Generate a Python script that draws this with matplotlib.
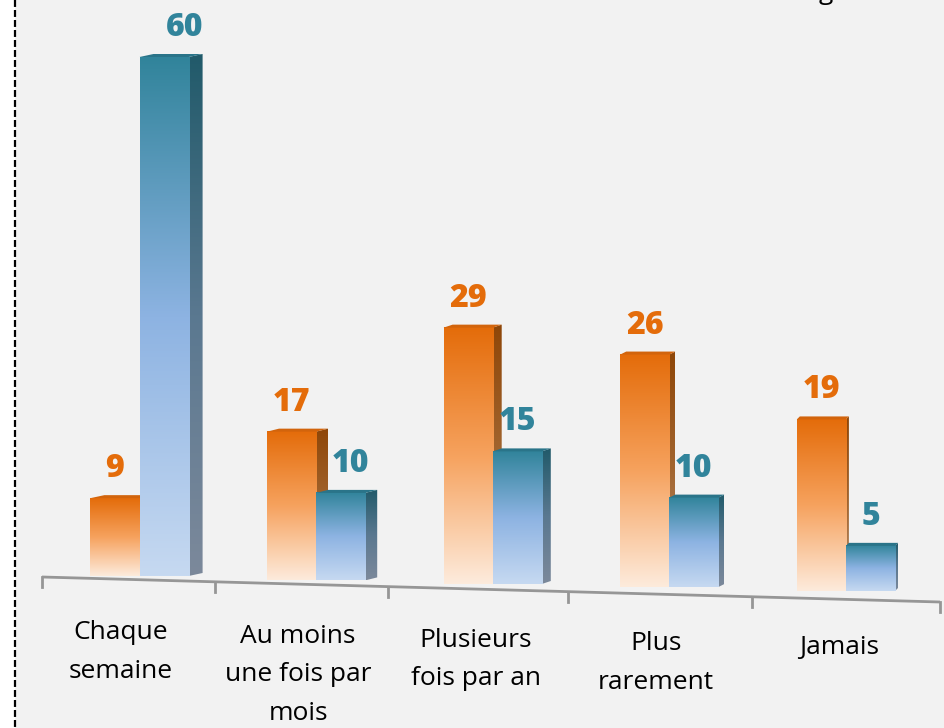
import numpy as np
import matplotlib
matplotlib.use('Agg')
import matplotlib.pyplot as plt
from matplotlib.colors import LinearSegmentedColormap
from matplotlib.patches import Polygon, Rectangle

plt.rcParams['font.family'] = ['Open Sans', 'DejaVu Sans']
plt.rcParams['lines.scale_dashes'] = False

# ---------------- data ----------------
categories = ["Chaque\nsemaine", "Au moins\nune fois par\nmois",
              "Plusieurs\nfois par an", "Plus\nrarement", "Jamais"]
series_orange = [9, 17, 29, 26, 19]
series_blue = [60, 10, 15, 10, 5]

# ---------------- style / layout ----------------
W, H = 944, 728
X0_PX, DX_PX = 139.5, 176.6          # pixel of category boundary between the two bars
BASE_PX = [576, 580.4, 584, 587, 591]  # perspective: floor height per category
SCALE_PX = [8.65, 8.75, 8.84, 8.94, 9.03]  # perspective: px per unit per category
DEPTH_PX = [14, 12, 9, 6, 3]
TOP_PX = 3
BAR_W = 0.278
LABEL_SHIFT_PX = [[0, 21], [0, 10], [0, 0], [0, 0], [0, 0]]
CAT_DX_PX = [-19, -18, -17, -13, -7]

ORANGE_FRONT = ['#E46C0A', '#F6A25E', '#FDEBDC']
ORANGE_SIDE = ['#8E4608', '#A2652F', '#B99272']
ORANGE_TOP = '#D2640C'
BLUE_FRONT = ['#31849B', '#8DB3E2', '#C6D9F1']
BLUE_SIDE = ['#215A6A', '#5A7890', '#7C899B']
BLUE_TOP = '#2A7489'
ORANGE_TXT = '#E46C0A'
BLUE_TXT = '#31849B'

fig = plt.figure(figsize=(W / 100, H / 100), dpi=100)
fig.patch.set_facecolor('white')

bg = fig.add_axes([0, 0, 1, 1])
bg.set_xlim(0, W)
bg.set_ylim(H, 0)
bg.axis('off')
bg.add_patch(Rectangle((15, 0), W - 15, H, facecolor='#f2f2f2', edgecolor='none', zorder=0))
bg.plot([15, 15], [0, H], color='black', lw=1.6, dashes=(5, 2.2), zorder=1)

# sloped category axis with ticks
TICK_PX = [42, 215, 388, 568, 752, 940]
def axis_y(x):
    return 577 + (x - 42) * 25 / 898
bg.plot([42, 940], [axis_y(42), axis_y(940)], color='#969696', lw=2, solid_capstyle='butt', zorder=2)
for tx in TICK_PX:
    bg.plot([tx, tx], [axis_y(tx), axis_y(tx) + 10], color='#969696', lw=2, zorder=2)

# cut-off title fragment at top
bg.text(826, -1, 'g', ha='center', va='baseline', fontsize=19, color='black')

# category labels
for i, lab in enumerate(categories):
    bg.text(X0_PX + DX_PX * i + CAT_DX_PX[i], 620 + 3.8 * i, lab, ha='center', va='top',
            fontsize=19, color='black', linespacing=1.72, multialignment='center')

xlim = (-X0_PX / DX_PX, (W - X0_PX) / DX_PX)


def gradient(ax, x0, x1, y0, y1, colors, z, clip=None):
    cmap = LinearSegmentedColormap.from_list('g', colors)
    arr = np.linspace(0, 1, 256).reshape(-1, 1)
    im = ax.imshow(arr, cmap=cmap, extent=[x0, x1, y0, y1], origin='upper',
                   aspect='auto', zorder=z, interpolation='bilinear')
    if clip is not None:
        im.set_clip_path(clip)
    return im


for i in range(len(categories)):
    ax = fig.add_axes([0, 0, 1, 1])
    ax.patch.set_alpha(0)
    s, b = SCALE_PX[i], BASE_PX[i]
    d = DEPTH_PX[i] / DX_PX
    t = TOP_PX / s
    bars = [(series_orange[i], i - BAR_W, ORANGE_FRONT, ORANGE_SIDE, ORANGE_TOP, ORANGE_TXT),
            (series_blue[i], i, BLUE_FRONT, BLUE_SIDE, BLUE_TOP, BLUE_TXT)]
    for j, (val, x0, front, side, top, tcol) in enumerate(bars):
        x1 = x0 + BAR_W
        zb = 1 + 3 * j
        side_poly = Polygon([(x1, 0), (x1 + d, t), (x1 + d, val + t), (x1, val)],
                            closed=True, facecolor='none', edgecolor='none')
        ax.add_patch(side_poly)
        gradient(ax, x1, x1 + d, 0, val + t, side, zb, clip=side_poly)
        gradient(ax, x0, x1, 0, val, front, zb + 1)
        ax.add_patch(Polygon([(x0, val), (x0 + d, val + t), (x1 + d, val + t), (x1, val)],
                             closed=True, facecolor=top, edgecolor='none', zorder=zb + 2))
        ax.annotate(str(val), xy=((x0 + x1) / 2, val), xytext=(LABEL_SHIFT_PX[i][j], 21),
                    textcoords='offset pixels', ha='center', va='baseline',
                    fontsize=23, fontweight='heavy', color=tcol, zorder=10)
    ax.set_xlim(*xlim)
    ax.set_ylim(-(H - b) / s, b / s)
    ax.axis('off')

fig.savefig('out.png', dpi=100, facecolor=fig.get_facecolor())
